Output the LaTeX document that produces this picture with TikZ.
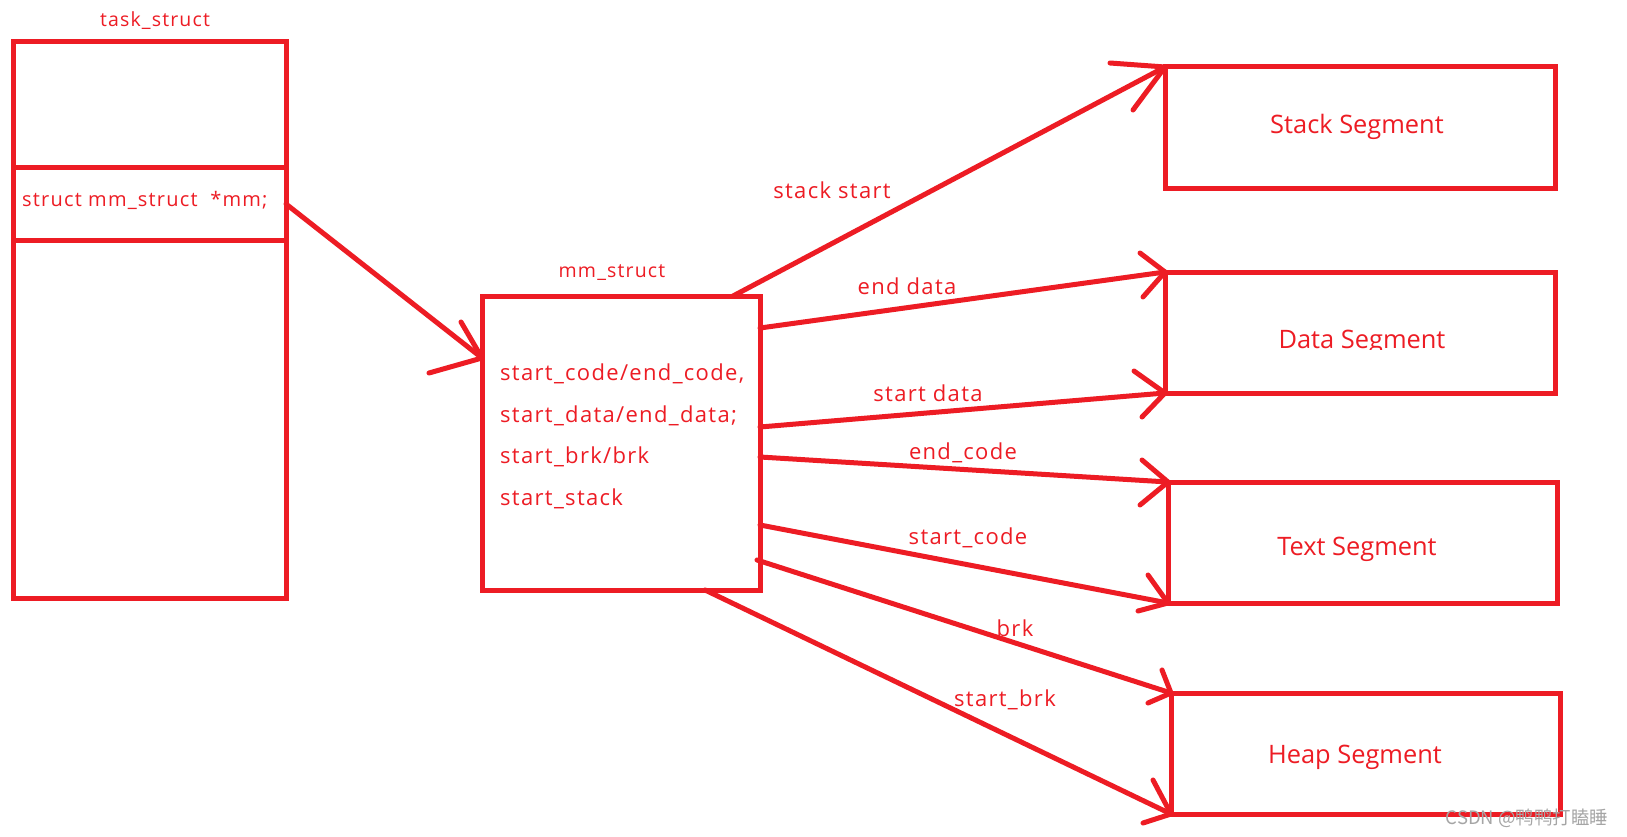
\documentclass[tikz,border=0pt]{standalone}
\usepackage{fontspec}
\setmainfont{Open Sans}
\newfontfamily\spaced{Open Sans}[LetterSpace=6]
\newfontfamily\cjk{Noto Sans CJK SC}
\usetikzlibrary{arrows.meta,calc}
\definecolor{pred}{RGB}{237,28,36}
\definecolor{wmgray}{RGB}{165,165,165}
\begin{document}
\begin{tikzpicture}[x=1pt,y=-1pt,
  box/.style={draw=pred, line width=5pt, inner sep=0pt, outer sep=0pt},
  lbl/.style={text=pred, inner sep=0pt, font=\spaced\fontsize{22}{26}\selectfont},
  ttl/.style={text=pred, inner sep=0pt, font=\spaced\fontsize{19.5}{23}\selectfont},
  fld/.style={text=pred, inner sep=0pt, anchor=base west, font=\spaced\fontsize{22}{26}\selectfont},
  seg/.style={text=pred, inner sep=0pt, font=\fontsize{25.4}{30}\selectfont},
  arr/.style={draw=pred, line width=5pt, line cap=round, line join=round}
]
\useasboundingbox (0,0) rectangle (1627,837);
\fill[white] (0,0) rectangle (1627,837);

% task_struct
\node[box, minimum width=273pt, minimum height=556pt] (task) at (149.5,320) {};
\node[box, minimum width=273pt, minimum height=72pt] (row) at (149.5,204) {};
\node[ttl] (tasklbl) at (155,21) {task\_struct};
\node[ttl, font=\spaced\fontsize{20}{24}\selectfont, anchor=west] (mmfield) at (22,200) {struct mm\_struct\ \ *mm;};

% mm_struct
\node[box, minimum width=278pt, minimum height=294pt] (mm) at (621,443) {};
\node[ttl] (mmlbl) at (612,273) {mm\_struct};
\node[fld] (l1) at (500,380) {start\_code/end\_code,};
\node[fld] (l2) at (500,422) {start\_data/end\_data;};
\node[fld] (l3) at (500,463) {start\_brk/brk};
\node[fld] (l4) at (500,505) {start\_stack};

% segments
\node[box, minimum width=390pt, minimum height=122pt] (stack) at (1360,128) {};
\node[box, minimum width=390pt, minimum height=121pt] (data) at (1360,332.5) {};
\node[box, minimum width=389pt, minimum height=121pt] (text) at (1362.5,542.5) {};
\node[box, minimum width=389pt, minimum height=121pt] (heap) at (1365.5,753.5) {};
\node[seg] (stacklbl) at (1357,127) {Stack Segment};
\begin{scope}
\clip (1200,300) rectangle (1530,349);
\node[seg] (datalbl) at (1362,342) {Data Segment};
\end{scope}
\node[seg] (textlbl) at (1357,549) {Text Segment};
\node[seg] (heaplbl) at (1355,757) {Heap Segment};

% connectors (shafts)
\draw[arr] (row.east) -- ([yshift=-62pt]mm.north west);
\draw[arr] ([xshift=-27pt]mm.north east) -- (stack.north west);
\draw[arr] ([yshift=-32pt]mm.north east) -- (data.north west);
\draw[arr] ([yshift=-131pt]mm.north east) -- (data.south west);
\draw[arr] ([yshift=-161pt]mm.north east) -- (text.north west);
\draw[arr] ([yshift=-229pt]mm.north east) -- (text.south west);
\draw[arr] ([xshift=-3pt,yshift=-264pt]mm.north east) -- (heap.north west);
\draw[arr] ([xshift=-55pt]mm.south east) -- (heap.south west);

% hand-drawn arrowheads
\draw[arr] ($([yshift=-62pt]mm.north west)+(-21,-36)$) -- ([yshift=-62pt]mm.north west) -- ++(-53,15);
\draw[arr] ($(stack.north west)+(-55,-4)$) -- (stack.north west) -- ++(-32,43);
\draw[arr] ($(data.north west)+(-25,-19)$) -- (data.north west) -- ++(-22,25);
\draw[arr] ($(data.south west)+(-31,-22)$) -- (data.south west) -- ++(-23,24);
\draw[arr] ($(text.north west)+(-26,-22)$) -- (text.north west) -- ++(-28,23);
\draw[arr] ($(text.south west)+(-20,-28)$) -- (text.south west) -- ++(-30,8);
\draw[arr] ($(heap.north west)+(-9,-23)$) -- (heap.north west) -- ++(-23,10);
\draw[arr] ($(heap.south west)+(-18,-34)$) -- (heap.south west) -- ++(-28,9);

% connector labels
\node[lbl] (e1) at (832,190) {stack start};
\node[lbl] (e2) at (907,286) {end data};
\node[lbl] (e3) at (928,393) {start data};
\node[lbl] (e4) at (963,453) {end\_code};
\node[lbl] (e5) at (968,538) {start\_code};
\node[lbl] (e6) at (1015,628) {brk};
\node[lbl] (e7) at (1005,700) {start\_brk};

% watermark
\node[text=wmgray, inner sep=0pt, font=\cjk\fontsize{18.5}{22}\selectfont] (wm) at (1527,818) {CSDN @鸭鸭打瞌睡};
\end{tikzpicture}
\end{document}
